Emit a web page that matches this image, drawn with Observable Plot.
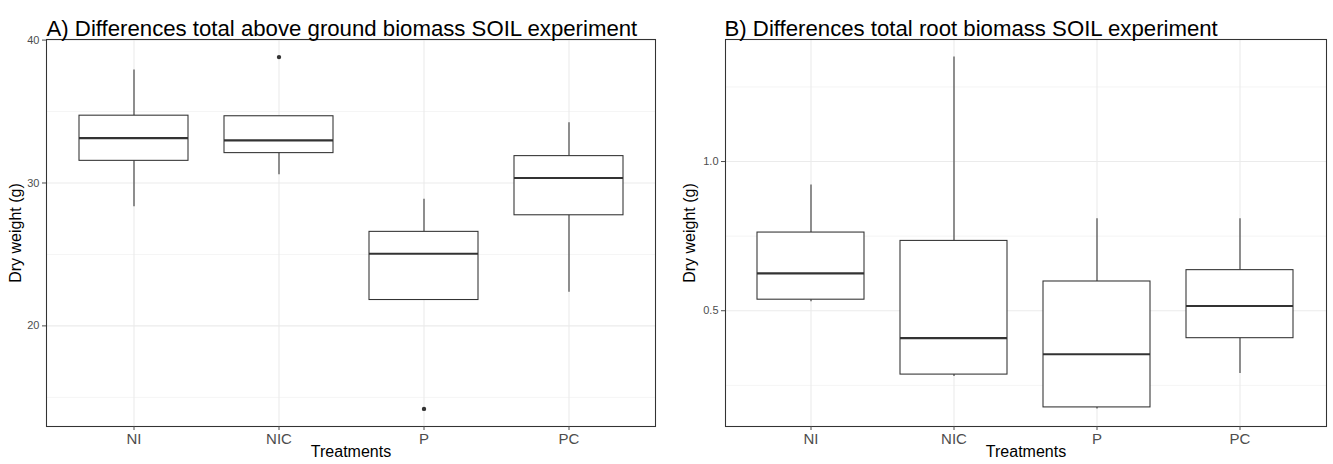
<!DOCTYPE html>
<html>
<head>
<meta charset="utf-8">
<script src="https://cdn.jsdelivr.net/npm/d3@7"></script>
<script src="https://cdn.jsdelivr.net/npm/@observablehq/plot@0.6"></script>
<style>
  html, body { margin: 0; padding: 0; background: #fff; }
  #wrap { display: flex; width: 1333px; height: 464px; }
  #wrap svg { display: block; }
</style>
</head>
<body>
<div id="wrap"></div>
<script>
// ---- data ----
const categories = ["NI", "NIC", "P", "PC"];

// A) total above ground biomass
const aTitle = "A) Differences total above ground biomass SOIL experiment";
const aLow    = [28.33, 30.58, 21.81, 22.35];
const aQ1     = [31.55, 32.09, 21.81, 27.74];
const aMedian = [33.14, 32.98, 25.05, 30.35];
const aQ3     = [34.71, 34.67, 26.58, 31.88];
const aHigh   = [37.91, 34.67, 28.86, 34.21];
const aOutCat = ["NIC", "P"];
const aOutVal = [38.81, 14.19];
const aMajorTicks = [20, 30, 40];
const aMinorTicks = [15, 25, 35];

// B) total root biomass
const bTitle = "B) Differences total root biomass SOIL experiment";
const bLow    = [0.530, 0.280, 0.171, 0.290];
const bQ1     = [0.537, 0.286, 0.176, 0.408];
const bMedian = [0.625, 0.408, 0.354, 0.516];
const bQ3     = [0.762, 0.734, 0.598, 0.636];
const bHigh   = [0.921, 1.350, 0.808, 0.808];
const bOutCat = [];
const bOutVal = [];
const bMajorTicks = [0.5, 1.0];
const bMinorTicks = [0.25, 0.75, 1.25];

const xTitle = "Treatments";
const yTitle = "Dry weight (g)";

// ---- drawing ----
const FONT = "'Liberation Sans', Arial, Helvetica, sans-serif";
const INK = "#333333";
const GRID = "#EBEBEB";

function panel(o) {
  const rows = categories.map((c, i) => ({cat: c, lo: o.lo[i], q1: o.q1[i], med: o.med[i], q3: o.q3[i], hi: o.hi[i]}));
  const outliers = o.outCat.map((c, i) => ({cat: c, v: o.outVal[i]}));
  const all = [...o.lo, ...o.hi, ...o.outVal];
  const mn = d3.min(all), mx = d3.max(all), pad = (mx - mn) * 0.05;
  return Plot.plot({
    width: o.width,
    height: 464,
    marginLeft: o.ml,
    marginRight: o.mr,
    marginTop: 39,
    marginBottom: 38,
    style: {fontFamily: FONT, background: "white", overflow: "visible"},
    x: {type: "band", domain: categories, paddingInner: 0.25, paddingOuter: 0.225},
    y: {domain: [mn - pad, mx + pad]},
    marks: [
      Plot.ruleY(o.minor, {stroke: GRID, strokeWidth: 0.55}),
      Plot.ruleY(o.major, {stroke: GRID, strokeWidth: 1.07}),
      Plot.ruleX(categories, {x: d => d, stroke: GRID, strokeWidth: 1.07}),
      Plot.ruleX(rows, {x: "cat", y1: "q3", y2: "hi", stroke: INK, strokeWidth: 1.07}),
      Plot.ruleX(rows, {x: "cat", y1: "lo", y2: "q1", stroke: INK, strokeWidth: 1.07}),
      Plot.barY(rows, {x: "cat", y1: "q1", y2: "q3", fill: "white", stroke: INK, strokeWidth: 1.07}),
      Plot.tickY(rows, {x: "cat", y: "med", stroke: INK, strokeWidth: 2.13}),
      Plot.dot(outliers, {x: "cat", y: "v", r: 2.2, fill: INK, stroke: null}),
      Plot.frame({stroke: INK, strokeWidth: 1.07}),
      Plot.axisY({ticks: o.major, tickFormat: o.fmt, tickSize: 4, tickPadding: 3, fontSize: 11, color: "#4D4D4D", label: null}),
      Plot.axisX({tickSize: 4, tickPadding: 3, fontSize: 15, color: "#4D4D4D", label: null}),
      Plot.text([o.title], {frameAnchor: "top-left", dx: o.titleDx, dy: -19, text: d => d, fontSize: 22.2, textAnchor: "start", fill: "black"}),
      Plot.text([xTitle], {frameAnchor: "bottom", dy: 30, text: d => d, fontSize: 16, textAnchor: "middle", fill: "black"}),
      Plot.text([yTitle], {frameAnchor: "left", dx: o.yLabDx, rotate: -90, text: d => d, fontSize: 16, textAnchor: "middle", fill: "black"})
    ]
  });
}

const wrap = document.getElementById("wrap");
wrap.append(panel({
  title: aTitle, lo: aLow, q1: aQ1, med: aMedian, q3: aQ3, hi: aHigh,
  outCat: aOutCat, outVal: aOutVal, major: aMajorTicks, minor: aMinorTicks,
  fmt: d3.format("d"), width: 666, ml: 46, mr: 11, titleDx: 0, yLabDx: -31
}));
wrap.append(panel({
  title: bTitle, lo: bLow, q1: bQ1, med: bMedian, q3: bQ3, hi: bHigh,
  outCat: bOutCat, outVal: bOutVal, major: bMajorTicks, minor: bMinorTicks,
  fmt: d3.format(".1f"), width: 667, ml: 59, mr: 7, titleDx: -1, yLabDx: -35.5
}));
</script>
</body>
</html>
